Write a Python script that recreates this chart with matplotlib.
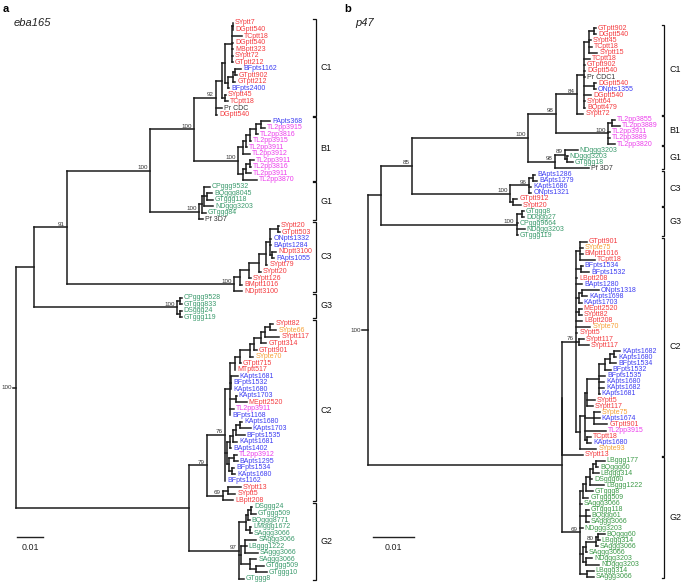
import matplotlib
matplotlib.use("Agg")
import matplotlib.pyplot as plt
from matplotlib.collections import LineCollection
from matplotlib.transforms import blended_transform_factory

plt.rcParams["font.family"] = ["Liberation Sans", "DejaVu Sans"]

# branch lengths in units of 0.001 substitutions / site, node labels = bootstrap
EBA_C1 = ("(((((SYptt7:0.2,DGptt540:0.2):0.3,TCptt18:3.8,DGptt540:0.5,MBptt323:0.5,"
          "SYptt72:0.5,GTptt212:0.5):2.6,(((BFpts1162:2.3,GTptt902:0.6):0.8,GTptt212:0.8):1.9,"
          "BFpts2400:0.4):1.2):1.3,(SYptt45:0.2,TCptt18:1.0):1.3):2.2,Pr CDC:2.3,DGptt540:0.4)92")
EBA_B1 = ("((((((PApts368:3.4,TL2pp3915:1.3):2.3,TL2pp3816:0.9):2.2,TL2pp3915:0.6):1.3,"
          "TL2pp3911:0.3):1.3,TL2pp3912:2.6):2.0,(((TL2pp3911:1.5,TL2pp3816:0.4):1.3,"
          "TL2pp3911:1.6):1.3,TL2pp3870:5.4):2.0)100")
EBA_G1 = ("(((CPggg9532:2.3,(BQggg8045:1.9,GTggg118:2.3):1.2,NDggg3203:3.5):0.8,"
          "GTggg84:1.5):1.2,Pf 3D7:1.5)100")
EBA_C3 = ("(((((((SYptt20:0.4,GTptt503:0.8):3.1,ONpts1332:0.6,BApts1284:0.6,"
          "(NDptt3100:1.7,PApts1055:0.8):0.8):1.5,SYptt79:0.6):2.7,SYptt20:0.8):3.8,"
          "SYptt126:0.8):3.5,BMptt1016:0.8):2.3,NDptt3100:3.1)100")
EBA_G3 = "((CPggg9528:0.8,GTggg833:0.8):1.0,(DSggg24:0.8,GTggg119:0.8):1.0)100"
EBA_C2_UPPER = ("((((((((SYptt82:1.2,SYpte66:2.3):1.9,SYptt117:5.4):1.5,GTptt314:1.9):2.7,"
                "GTptt901:0.8):1.9,SYpte70:1.5):3.8,GTptt715:0.4):1.9,MTptt517:0.2):1.9,"
                "(KApts1681:2.7,BFpts1532:0.1,KApts1680:0.1):0.4,(KApts1703:0.4,MEptt2520:4.2):2.3,"
                "TL2pp3911:1.5,BFpts1168:0.1)")
EBA_C2_LOWER = ("(((((KApts1680:0.8,KApts1703:4.1):1.5,BFpts1535:3.3):1.2,KApts1681:1.5):1.2,"
                "BApts1402:0.4):1.2,((TL2pp3912:1.2,BApts1295:1.5):1.9,"
                "(BFpts1534:0.8,KApts1680:1.2):1.2):0.8)")
EBA_C2 = ("((" + EBA_C2_UPPER + ":1.9," + EBA_C2_LOWER + ":0.8,BFpts1162:0.1)76:7.0,"
          "((SYptt13:4.8,SYptt5:2.6):2.2,LBptt208:4.0)69:6.2)79")
EBA_G2 = ("((((DSggg24:0.6,GTggg509:2.1):1.0,BQggg8771:0.7):0.6,(LMggg1672:0.6,SAggg3066:0.8):1.3):2.8,"
          "((SAggg3066:4.2,LBggg1222:0.5,SAggg3066:4.7):1.5,(SAggg3066:2.5,"
          "(GTggg509:3.1,GTggg10:4.2):2.3):3.2):0.9,GTggg8:1.8)97")
EBA_TREE = (f"((((({EBA_C1}:8.5,{EBA_B1}:16.9)100:16.9,{EBA_G1}:18.8)100:31.8,{EBA_C3}:64.1)91:12.9,"
            f"{EBA_G3}:55.1):6.7,({EBA_C2}:6.8,{EBA_G2}:19.3):66.4)100:1.3;")
EBA_CLADES = ["C1", "B1", "G1", "C3", "G3", "C2", "G2"]
EBA_CLADE_SIZES = [15, 10, 6, 11, 4, 28, 12]

P47_C1 = ("((((GTptt902:0.5,DGptt540:0.6):1.2,SYptt45:0.5,TCptt18:0.6,SYptt15:2.0):1.3,"
          "TCptt18:1.5,GTptt902:0.3,DGptt540:0.3,Pr CDC1:0.4,(DGptt540:0.5,ONpts1355:0.5):2.5,"
          "DGptt540:1.8,SYptt64:0.3,BQptt479:0.3):1.6,SYptt72:1.5)84")
P47_B1 = "((TL2pp3855:0.7,TL2pp3889:1.9):0.9,TL2pp3911:0.5,TL2pp3889:0.5,TL2pp3820:1.7)100"
P47_G1 = "((NDggg3203:3.1,(NDggg3203:0.1,GTggg18:1.4):0.5)89:2.5,Pf 3D7:8.4)98"
P47_C3 = ("(((BApts1286:0.6,BApts1279:1.1):0.9,KApts1686:0.5,ONpts1321:0.5)96:4.7,"
          "(GTptt912:1.0,SYptt20:1.9):0.8)100")
P47_G3 = "((GTggg8:0.6,DDggg27:0.6):1.2,CPggg9664:0.3,NDggg3203:2.0,GTggg119:0.3)100"
P47_C2_LOWER = ("(((((((KApts1682:1.7,KApts1680:0.6):0.9,BFpts1534:1.5):1.2,BFpts1532:1.4):1.4,"
                "BFpts1535:1.5,KApts1680:1.2,KApts1682:1.2,KApts1681:0.1):2.9,SYptt5:1.8,"
                "SYptt117:1.4):0.7,(SYpte75:1.5,KApts1674:1.5,GTptt901:3.4):2.2,TL2pp3915:5.2,"
                "(TCptt18:0.9,KApts1680:1.0):0.6):1.1,SYpte93:4.0)")
P47_C2 = ("((GTptt901:1.6,SYpte75:0.6,BMptt1016:0.6,TCptt18:3.7):1.1,(BFpts1534:0.5,BFpts1532:2.1):1.2,"
          "LBptt208:0.4,BApts1280:1.6,((ONpts1318:4.2,KApts1698:1.4):0.6,KApts1703:0.6):0.9,"
          "(MEptt2520:0.6,SYptt82:0.6):0.9,LBptt208:1.6,SYpte70:3.6,SYptt5:0.4,"
          "(SYptt117:1.2,SYptt117:2.5):0.8," + P47_C2_LOWER + ":1.1)76")
P47_G2 = ("((((((LBggg177:2.1,BQggg60:0.5):0.7,LBggg314:1.4):0.9,DSggg60:0.6,LBggg1222:3.6):0.9,"
          "GTggg8:1.7):0.7,GTggg509:1.3):0.8,SAggg3066:0.6,(GTggg118:0.7,BQggg61:0.9,SAggg3066:0.7):1.5,"
          "NDggg3203:0.7,((((BQggg60:1.5,LBggg314:0.3):0.6,SAggg3066:0.5)80:2.5,SAggg3066:0.3):0.7,"
          "(NDggg3203:1.5,NDggg3203:3.2):0.8):0.8,(LBggg314:1.7,SAggg3066:1.7):1.7)69")
P47_TREE = (f"((((({P47_C1}:5.3,{P47_B1}:12.9)98:6.8,{P47_G1}:6.6)100:28.6,{P47_C3}:24.2)85:7.6,"
            f"{P47_G3}:33.4):3.2,(({P47_C2}:3.3,SYptt13:5.0):0,{P47_G2}:4.3):47.8)100:1.4;")
P47_CLADES = ["C1", "B1", "G1", "C3", "G3", "C2", "G2"]
P47_CLADE_SIZES = [15, 5, 4, 6, 5, 36, 20]

RED = "#F43A3E"
BLUE = "#3D3DF2"
MAGENTA = "#EC3CEC"
ORANGE = "#F7A136"
GREEN = "#3A9A6C"
GREEN_B_G2 = "#3C9A48"
DARK = "#333333"

W, H = 682, 583


def parse_newick(s):
    pos = 0

    def node():
        nonlocal pos
        children = []
        if s[pos] == "(":
            pos += 1
            children.append(node())
            while s[pos] == ",":
                pos += 1
                children.append(node())
            pos += 1
        start = pos
        while s[pos] not in ":,();":
            pos += 1
        name = s[start:pos]
        length = 0.0
        if s[pos] == ":":
            pos += 1
            start = pos
            while s[pos] not in ",();":
                pos += 1
            length = float(s[start:pos])
        return {"name": name, "len": length, "children": children}

    return node()


def layout(tree):
    leaves, nodes = [], []

    def walk(n, x0):
        n["x0"] = x0
        n["x"] = x0 + n["len"]
        nodes.append(n)
        if n["children"]:
            for c in n["children"]:
                walk(c, n["x"])
            n["y"] = (n["children"][0]["y"] + n["children"][-1]["y"]) / 2
        else:
            n["y"] = len(leaves)
            leaves.append(n)

    walk(tree, -tree["len"])
    return leaves, nodes


def leaf_color(name):
    if name.startswith("TL2pp"):
        return MAGENTA
    if "ptt" in name:
        return RED
    if "pts" in name:
        return BLUE
    if "pte" in name:
        return ORANGE
    if "ggg" in name:
        return GREEN
    return DARK


def draw_panel(fig, newick, clades, sizes, px0, px1, root_px, ppu, top_px, step_px,
               bracket_px, scale_px, letter, title, green_override=None):
    ax = fig.add_axes([px0 / W, 0, (px1 - px0) / W, 1])
    ax.set_xlim((px0 - root_px) / ppu, (px1 - root_px) / ppu)
    ax.set_ylim((H - top_px) / step_px, -top_px / step_px)
    ax.axis("off")

    tree = parse_newick(newick)
    leaves, nodes = layout(tree)

    segs = []
    for n in nodes:
        segs.append([(n["x0"], n["y"]), (n["x"], n["y"])])
        if n["children"]:
            segs.append([(n["x"], n["children"][0]["y"]), (n["x"], n["children"][-1]["y"])])
    ax.add_collection(LineCollection(segs, colors="#1c1c1c", linewidths=1.1,
                                     capstyle="projecting"))

    # leaves of the clade whose greens are drawn in another shade
    clade_of = []
    for name, size in zip(clades, sizes):
        clade_of += [name] * size

    for i, lf in enumerate(leaves):
        col = leaf_color(lf["name"])
        if green_override and clade_of[i] == green_override[0] and col == GREEN:
            col = green_override[1]
        ax.annotate(lf["name"], (lf["x"], lf["y"]), xytext=(1.4, 0), textcoords="offset points",
                    ha="left", va="center", fontsize=5.0, color=col)

    for n in nodes:
        if n["children"] and n["name"] and n is not tree:
            ax.annotate(n["name"], (n["x"], n["y"]), xytext=(-1.6, 0.4), textcoords="offset points",
                        ha="right", va="bottom", fontsize=4.5, color=DARK)
    ax.annotate(tree["name"], (tree["x0"], tree["y"]), xytext=(-1.0, 0), textcoords="offset points",
                ha="right", va="center", fontsize=4.5, color=DARK)

    # clade brackets
    bx = (bracket_px - root_px) / ppu
    tick = 2.6 / ppu
    start = 0
    for name, size in zip(clades, sizes):
        y0 = start - 0.62
        y1 = start + size - 1 + 0.15
        ax.plot([bx - tick, bx, bx, bx - tick], [y0, y0, y1, y1], color="#111111", lw=0.9,
                solid_joinstyle="miter")
        ax.annotate(name, (bx, (y0 + y1) / 2), xytext=(3.6, 0), textcoords="offset points",
                    ha="left", va="center", fontsize=6.4, color="#111111")
        start += size

    # scale bar 0.01
    trans = blended_transform_factory(ax.transData, ax.transAxes)
    sx = (scale_px - root_px) / ppu
    ax.plot([sx, sx + 10], [(H - 537) / H] * 2, color="#222222", lw=1.0, transform=trans)
    ax.text(sx + 5, (H - 547) / H, "0.01", transform=trans, ha="center", va="center",
            fontsize=6.4, color="#222222")

    fig.text((px0 + 3) / W, 1 - 9 / H, letter, fontsize=8, fontweight="bold",
             ha="left", va="center")
    fig.text((px0 + 14) / W, 1 - 23 / H, title, fontsize=8, style="italic",
             ha="left", va="center", color="#222222")
    return ax


fig = plt.figure(figsize=(W / 100, H / 100), dpi=100)
fig.patch.set_facecolor("white")

draw_panel(fig, EBA_TREE, EBA_CLADES, EBA_CLADE_SIZES, 0, 341, 16.3, 2.6, 23.0, 6.54,
           315.7, 17.3, "a", "eba165")
draw_panel(fig, P47_TREE, P47_CLADES, P47_CLADE_SIZES, 341, 682, 367.7, 4.07, 28.3, 6.094,
           664.3, 373.3, "b", "p47", green_override=("G2", GREEN_B_G2))

fig.savefig("out.png", dpi=100, facecolor="white")
